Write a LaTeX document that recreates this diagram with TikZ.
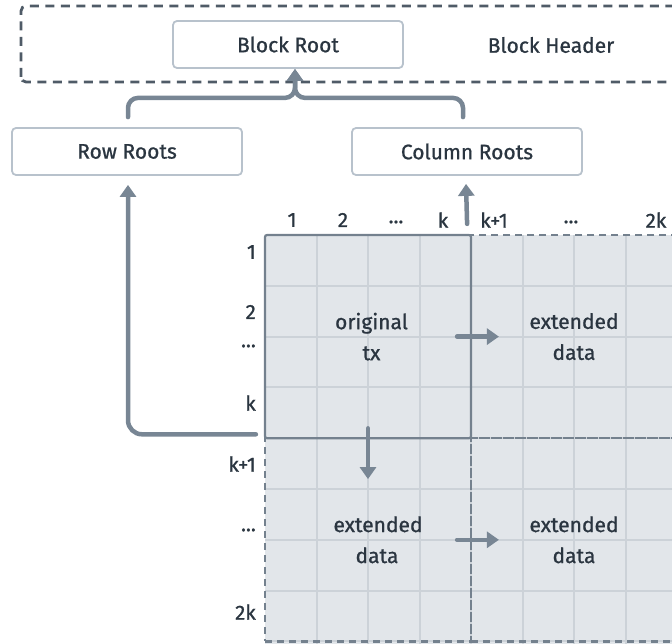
\documentclass[tikz,border=0pt]{standalone}
\usepackage{fontspec}
\setmainfont{Fira Sans}[FakeBold=0.9]
\usetikzlibrary{arrows.meta,calc}
\definecolor{txt}{HTML}{2A3540}
\definecolor{boxline}{HTML}{B8C2CC}
\definecolor{hdr}{HTML}{4F5B67}
\definecolor{arr}{HTML}{788694}
\definecolor{cellfill}{HTML}{E2E6EA}
\definecolor{cellline}{HTML}{CCD2D8}
\definecolor{quadline}{HTML}{74818E}
\begin{document}
\begin{tikzpicture}[x=1pt,y=-1pt,
  rootbox/.style={draw=boxline, line width=1.8pt, rounded corners=4pt, fill=white,
    minimum width=230pt, minimum height=47pt, inner sep=0pt, text=txt,
    font=\fontsize{21}{24}\selectfont},
  quadbox/.style={minimum width=206pt, minimum height=203.2pt, inner sep=0pt,
    text=txt, align=center, font=\fontsize{21}{31}\selectfont},
  solidquad/.style={quadbox, draw=quadline, line width=2.2pt, rounded corners=2pt},
  dashquad/.style={quadbox, draw=quadline, line width=2.2pt, dash pattern=on 7pt off 5pt},
  conn/.style={draw=arr, line width=4.5pt, line cap=round,
    -{Triangle[width=16pt,length=12pt]}},
  lbl/.style={text=txt, inner sep=0pt, font=\fontsize{20.5}{24}\selectfont},
  rowlbl/.style={lbl, anchor=east}
]
\useasboundingbox (0,0) rectangle (672,644);
\clip (0,0) rectangle (672,644);

% header
\draw[hdr, line width=2.8pt, dash pattern=on 9pt off 6.5pt, rounded corners=5pt]
  (21,82) -- (21,6) -- (700,6) -- (700,82) -- cycle;
\node[rootbox] (br) at (288,44.5) {Block Root};
\node[text=txt, font=\fontsize{21}{24}\selectfont] (bh) at (551,45) {Block Header};

\node[rootbox] (rr) at (127,151.5) {Row Roots};
\node[rootbox] (cr) at (467,151.5) {Column Roots};

% grid background
\fill[cellfill] (265,235) rectangle (690,645);
\foreach \i in {1,...,8} {
  \draw[cellline, line width=2pt] (265+51.5*\i,235) -- (265+51.5*\i,645);
  \draw[cellline, line width=2pt] (265,235+50.8*\i) -- (690,235+50.8*\i);
}

% quadrants
\node[dashquad] (ext1) at (574,336.6) {extended\\data};
\node[dashquad] (ext2) at (368,539.8) {\hspace*{20pt}extended\\\hspace*{18pt}data};
\node[dashquad] (ext3) at (574,539.8) {extended\\data};
\node[solidquad] (orig) at (368,336.6) {\hspace*{7pt}original\\\hspace*{7pt}tx};

% column labels
\node[lbl] (c1) at (292,220) {1};
\node[lbl] (c2) at (343,220) {2};
\node[lbl] (c3) at (396,222) {...};
\node[lbl] (c4) at (443,220) {k};
\node[lbl] (c5) at (494,220) {k+1};
\node[lbl] (c6) at (571,222) {...};
\node[lbl] (c7) at (656,220) {2k};

% row labels
\node[rowlbl] (r1) at (256,252) {1};
\node[rowlbl] (r2) at (256,312) {2};
\node[rowlbl] (r3) at (256,346) {...};
\node[rowlbl] (r4) at (256,403) {k};
\node[rowlbl] (r5) at (256,464) {k+1};
\node[rowlbl] (r6) at (256,530) {...};
\node[rowlbl] (r7) at (256,612) {2k};

% connectors
\draw[conn, rounded corners=10pt] ($(rr.north)+(1,-10)$) |- ($(br.south)+(7,29)$) -- ($(br.south)+(7,0)$);
\draw[conn, rounded corners=10pt] ($(cr.north)+(-4,-10)$) |- ($(br.south)+(7,29)$) -- ($(br.south)+(7,0)$);
\draw[conn, rounded corners=14pt] ($(orig.south west)+(-8,-5)$) -| ($(rr.south)+(1,9)$);
\draw[conn] ($(orig.north east)+(-5,-10)$) -- ($(cr.south)+(-1,8)$);
\draw[conn] ($(orig.east)+(-15,0)$) -- ($(ext1.west)+(29,0)$);
\draw[conn] ($(orig.south)+(0,-11)$) -- ($(ext2.north)+(0,42)$);
\draw[conn] ($(ext2.east)+(-15,0)$) -- ($(ext3.west)+(29,0)$);
\end{tikzpicture}
\end{document}
